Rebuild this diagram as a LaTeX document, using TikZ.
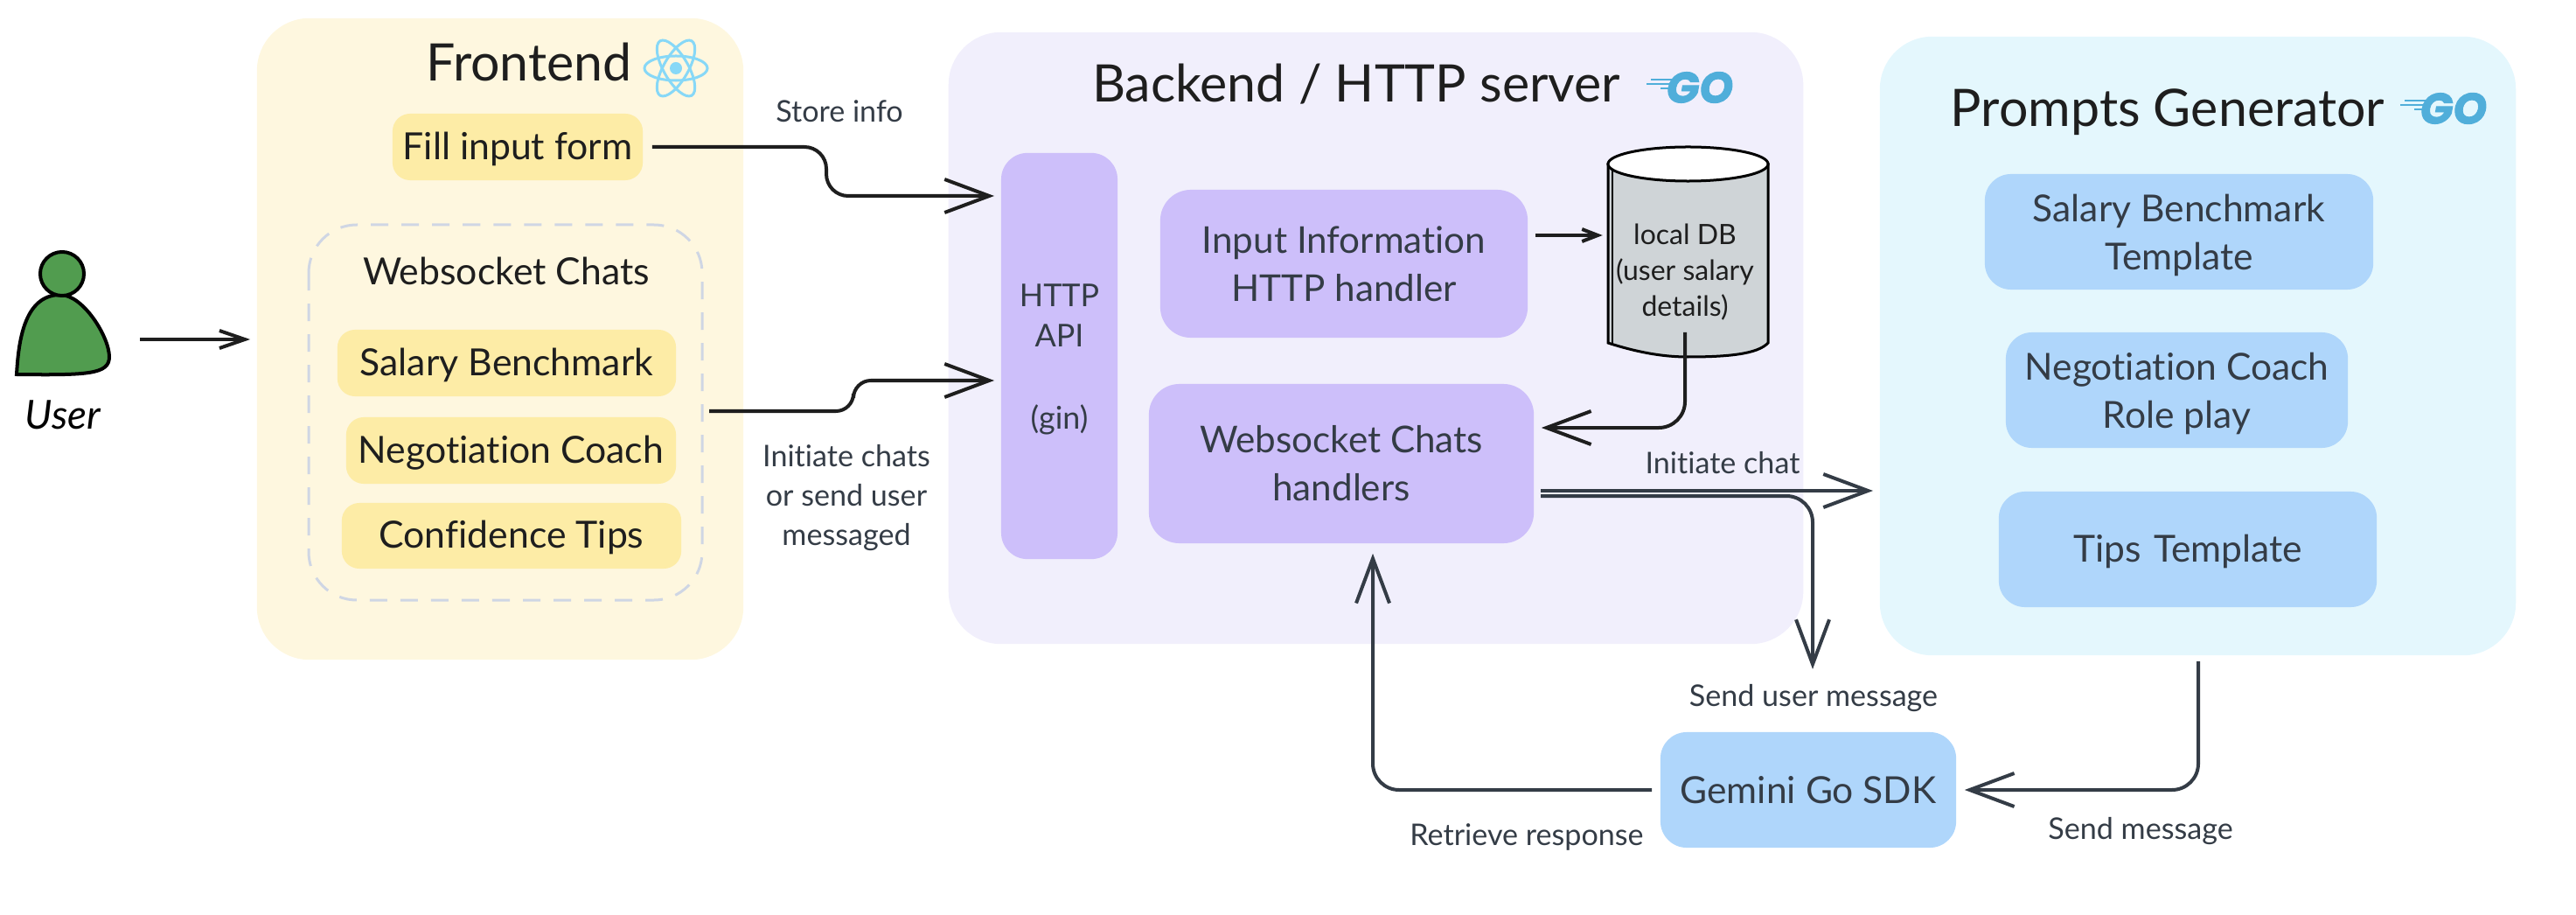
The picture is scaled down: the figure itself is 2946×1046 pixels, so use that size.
\documentclass[tikz,border=0pt]{standalone}
\usepackage{fontspec}
\setmainfont{Lato}[Ligatures=NoCommon]
\newfontfamily\gofont{Poppins}[FakeBold=2]
\usetikzlibrary{arrows.meta}
\definecolor{frontbg}{HTML}{FEF7DF}
\definecolor{frontbox}{HTML}{FDECA6}
\definecolor{backbg}{HTML}{F1EFFC}
\definecolor{backbox}{HTML}{CDBFFA}
\definecolor{promptbg}{HTML}{E4F7FD}
\definecolor{promptbox}{HTML}{AFD6FB}
\definecolor{ink}{HTML}{1E1E1E}
\definecolor{slate}{HTML}{343C46}
\definecolor{reactblue}{HTML}{87D8F7}
\definecolor{goblue}{HTML}{50AEDA}
\definecolor{userfill}{HTML}{519C4F}
\definecolor{dbfill}{HTML}{CFD4D7}
\definecolor{dashline}{HTML}{CFD6E4}
\tikzset{
panel/.style={rounded corners=0.6cm, inner sep=0pt},
title/.style={text=ink, font=\fontsize{16.8}{20}\selectfont, inner sep=0pt},
frontitem/.style={fill=frontbox, rounded corners=0.2cm, inner sep=0pt, text=ink, text height=9.5pt, text depth=1.5pt, font=\fontsize{12.15}{15.6}\selectfont},
backitem/.style={fill=backbox, rounded corners=0.35cm, inner sep=0pt, text=slate, align=center, font=\fontsize{12}{15.7}\selectfont},
promptitem/.style={fill=promptbox, rounded corners=0.3cm, inner sep=0pt, text=slate, align=center, font=\fontsize{12.1}{15.7}\selectfont},
twoline/.style={text height=27pt, text depth=2.4pt},
label/.style={text=slate, inner sep=0pt, align=center, font=\fontsize{9.7}{12.8}\selectfont},
flow/.style={draw=slate, line width=0.04cm, rounded corners=0.3cm, -{Straight Barb[length=0.51cm,width=0.38cm]}},
darkflow/.style={flow, draw=ink},
gologo/.pic={
\node[inner sep=0pt, text=goblue, font=\gofont\bfseries\itshape\fontsize{14}{16}\selectfont] (-word) at (61,0) {GO};
\draw[goblue, line width=0.025cm] (5,-9) -- (36,-9) (0,-4) -- (34,-4) (16,1) -- (34,1);
},
}
\begin{document}
\begin{tikzpicture}[x=0.01cm, y=-0.01cm]
\useasboundingbox (0,0) rectangle (2946,1046);
% panels
\node[panel, fill=frontbg, minimum width=5.56cm, minimum height=7.33cm] (frontend) at (572,387.5) {};
\node[panel, fill=backbg, minimum width=9.77cm, minimum height=6.99cm] (backend) at (1573.5,386.5) {};
\node[panel, fill=promptbg, minimum width=7.27cm, minimum height=7.07cm] (prompts) at (2513.5,395.5) {};
% user
\draw[fill=userfill, draw=black, line width=0.04cm] (19,428) .. controls (21,395) and (26,337) .. (69,337) .. controls (95,337) and (125,385) .. (125,408) .. controls (125,428) and (100,429) .. (19,428) -- cycle;
\draw[fill=userfill, draw=black, line width=0.04cm] (71,313) circle (0.25cm);
\node[inner sep=0pt, text=black, font=\itshape\fontsize{13}{15}\selectfont] (user) at (72,474) {User};
% frontend
\node[title] (fronttitle) at (605,71) {Frontend};
\foreach \ang in {0,60,120} {
\draw[reactblue, line width=0.03cm, rotate around={\ang:(773,78)}] (773,78) ellipse [x radius=0.36cm, y radius=0.14cm];
}
\fill[reactblue] (773,78) circle (0.07cm);
\node[frontitem, minimum width=2.86cm, minimum height=0.76cm] (fillform) at (592,168) {Fill input form};
\draw[dashline, line width=0.03cm, dash pattern=on 0.2cm off 0.15cm, rounded corners=0.55cm] (353,257) rectangle (803,686);
\node[title, font=\fontsize{12.15}{15}\selectfont] (wschats) at (579,310) {Websocket Chats};
\node[frontitem, minimum width=3.87cm, minimum height=0.76cm] (salary) at (579.5,415) {Salary Benchmark};
\node[frontitem, minimum width=3.77cm, minimum height=0.76cm] (negotiation) at (584.5,515) {Negotiation Coach};
\node[frontitem, minimum width=3.88cm, minimum height=0.75cm] (confidence) at (585,612.5) {Confidence Tips};
\coordinate (chatsout) at (803,470);
% backend
\node[title] (backtitle) at (1551,96) {Backend / HTTP server};
\pic (backgo) at (1883,100) {gologo};
\node[backitem, rounded corners=0.3cm, minimum width=1.33cm, minimum height=4.64cm, text height=50pt, text depth=2.6pt, font=\fontsize{10.2}{13.3}\selectfont] (api) at (1211.5,407) {HTTP\\API\\[13.3pt](gin)};
\node[backitem, minimum width=4.2cm, minimum height=1.69cm] (inputh) at (1537,301.5) {Input Information\\HTTP handler};
\node[backitem, minimum width=4.4cm, minimum height=1.82cm] (wsh) at (1534,530) {Websocket Chats\\handlers};
\draw[draw=black, fill=dbfill, line width=0.03cm] (1839,188) -- (1839,392) .. controls (1870,402) and (1900,408) .. (1930,408) .. controls (1975,408) and (2010,405) .. (2022,392) -- (2022,188) -- cycle;
\draw[draw=black, line width=0.02cm] (1844,195) -- (1844,395);
\draw[draw=black, fill=white, line width=0.03cm] (1930.5,187.5) ellipse [x radius=0.915cm, y radius=0.195cm];
\node[label, text=ink, font=\fontsize{9.1}{11.7}\selectfont, minimum width=1.83cm] (db) at (1927,311) {local DB\\(user salary\\details)};
% prompts
\node[title] (prompttitle) at (2479,128) {Prompts Generator};
\pic (promptgo) at (2745,124) {gologo};
\node[promptitem, twoline, minimum width=4.44cm, minimum height=1.32cm] (salarytpl) at (2492,265) {Salary Benchmark\\Template};
\node[promptitem, twoline, minimum width=3.91cm, minimum height=1.32cm] (negotiationtpl) at (2489.5,446) {Negotiation Coach\\Role play};
\node[promptitem, minimum width=4.32cm, minimum height=1.32cm, text height=10pt, text depth=1.5pt, text width=2.65cm] (tipstpl) at (2502,628) {Tips Template};
\node[promptitem, minimum width=3.38cm, minimum height=1.32cm] (gemini) at (2068,903) {Gemini Go SDK};
% connector ends
\coordinate (userout) at (160,388);
\coordinate (apiform) at (1145,224);
\coordinate (apichats) at (1145,435);
\coordinate (wsoutA) at (1754,561);
\coordinate (wsoutB) at (1754,567);
\coordinate (promptin) at (2150,561);
\coordinate (dbout) at (1927,380);
\coordinate (promptout) at (2514,749);
\coordinate (sendtip) at (2073,765);
% connectors
\draw[darkflow, -{Straight Barb[length=0.29cm,width=0.2cm]}, shorten >=0.07cm] (userout) -- (frontend.west |- userout);
\draw[darkflow, rounded corners=0.25cm, shorten <=0.1cm, shorten >=0.08cm] (fillform.east) -- (945,168) -- (945,224) -- (apiform);
\draw[darkflow, rounded corners=0.2cm, shorten <=0.08cm, shorten >=0.08cm] (chatsout) -- (976,470) -- (976,435) -- (apichats);
\draw[darkflow, -{Straight Barb[length=0.18cm,width=0.14cm]}, shorten <=0.08cm, shorten >=0.02cm] (inputh.east |- 0,269) -- (db.west |- 0,269);
\draw[darkflow, shorten >=0.08cm] (dbout) |- (wsh.east |- 0,489);
\draw[flow, shorten <=0.08cm, shorten >=0.08cm] (wsoutA) -- (promptin);
\draw[flow, shorten <=0.08cm] (wsoutB) -| (sendtip);
\draw[flow, shorten <=0.07cm, shorten >=0.09cm] (promptout) |- (gemini.east);
\draw[flow, shorten <=0.09cm, shorten >=0.11cm] (gemini.west) -| (wsh.south -| 1570,0);
% labels
\node[label] (storelbl) at (960,127) {Store info};
\node[label] (chatslbl) at (968,569) {Initiate chats\\or send user\\messaged};
\node[label] (initlbl) at (1970,529) {Initiate chat};
\node[label] (sendusrlbl) at (2074,798) {Send user message};
\node[label] (retrievelbl) at (1746,957) {Retrieve response};
\node[label] (sendlbl) at (2448,950) {Send message};
\end{tikzpicture}
\end{document}
